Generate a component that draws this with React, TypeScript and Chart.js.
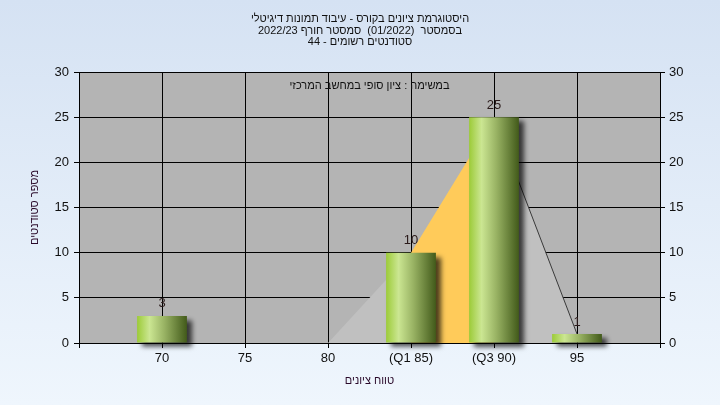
import React, { useEffect, useRef } from 'react';
import { Chart, registerables } from 'chart.js';

Chart.register(...registerables);

const FONT = "'Liberation Sans', Arial, 'DejaVu Sans', sans-serif";

const titleLines = [
  'היסטוגרמת ציונים בקורס - עיבוד תמונות דיגיטלי',
  'בסמסטר  (01/2022)  סמסטר חורף 2022/23',
  'סטודנטים רשומים - 44',
];
const taskLabel = 'במשימה : ציון סופי במחשב המרכזי';
const xTitle = 'טווח ציונים';
const yTitle = 'מספר סטודנטים';

const scores = [70, 75, 80, 85, 90, 95];
const counts = [3, 0, 0, 10, 25, 1];

const curveScores = [80, 85, 90, 95];
const curveCounts = [0, 10, 25, 1];

const tickValues = [65, 70, 75, 80, 85, 90, 95, 100];
const tickLabels = ['', '70', '75', '80', '(Q1 85)', '(Q3 90)', '95', ''];

const segmentFills = ['#c0c0c0', '#ffcb5a', '#c0c0c0'];
const segmentBorders = ['rgba(0,0,0,0)', 'rgba(0,0,0,0)', '#3a3a3a'];

const backgroundPlugin = {
  id: 'bgPlugin',
  beforeDraw(chart: any) {
    const { ctx, width, height, chartArea } = chart;
    ctx.save();
    const g = ctx.createLinearGradient(0, 0, 0, height);
    g.addColorStop(0, '#d5e2f3');
    g.addColorStop(1, '#eff6fd');
    ctx.fillStyle = g;
    ctx.fillRect(0, 0, width, height);
    ctx.fillStyle = '#b4b4b4';
    ctx.fillRect(chartArea.left, chartArea.top, chartArea.right - chartArea.left, chartArea.bottom - chartArea.top);
    ctx.fillStyle = '#111';
    ctx.font = `11px ${FONT}`;
    ctx.textAlign = 'center';
    ctx.textBaseline = 'alphabetic';
    ctx.direction = 'rtl';
    titleLines.forEach((t, i) => ctx.fillText(t, width / 2, 22 + i * 11.5));
    ctx.restore();
  },
};

const barStylePlugin = {
  id: 'barStyle',
  beforeDatasetDraw(chart: any, args: any) {
    if (args.meta.type !== 'bar') return;
    const ctx = chart.ctx;
    args.meta.data.forEach((el: any) => {
      const { x, width } = el.getProps(['x', 'width'], true);
      const g = ctx.createLinearGradient(x - width / 2, 0, x + width / 2, 0);
      g.addColorStop(0, '#9ccb38');
      g.addColorStop(0.25, '#cbe692');
      g.addColorStop(0.55, '#98b263');
      g.addColorStop(1, '#425a1a');
      el.options = { ...el.options, backgroundColor: g };
    });
    ctx.save();
    ctx.shadowColor = 'rgba(0,0,0,0.7)';
    ctx.shadowBlur = 5;
    ctx.shadowOffsetX = 5;
    ctx.shadowOffsetY = 4;
  },
  afterDatasetDraw(chart: any, args: any) {
    if (args.meta.type !== 'bar') return;
    chart.ctx.restore();
  },
  afterDatasetsDraw(chart: any) {
    const { ctx, chartArea } = chart;
    ctx.save();
    ctx.font = `13px ${FONT}`;
    ctx.fillStyle = '#2a1a1a';
    ctx.textAlign = 'center';
    ctx.textBaseline = 'middle';
    const meta = chart.getDatasetMeta(0);
    meta.data.forEach((el: any, i: number) => {
      if (counts[i] > 0) ctx.fillText(String(counts[i]), el.x, el.y - 12);
    });
    ctx.font = `11px ${FONT}`;
    ctx.fillStyle = '#111';
    ctx.direction = 'rtl';
    ctx.fillText(taskLabel, (chartArea.left + chartArea.right) / 2, chartArea.top + 14);
    ctx.restore();
  },
};

export default function App() {
  const ref = useRef<HTMLCanvasElement>(null);
  useEffect(() => {
    if (!ref.current) return;
    const tickFont = { size: 13, family: FONT };
    const chart = new Chart(ref.current, {
      type: 'bar',
      data: {
        datasets: [
          {
            type: 'bar',
            data: scores.map((s, i) => ({ x: s, y: counts[i] })),
            categoryPercentage: 0.6,
            barPercentage: 1,
            backgroundColor: '#9ccb38',
            borderWidth: 0,
            order: 1,
            clip: false,
            xAxisID: 'x',
            yAxisID: 'y',
          } as any,
          {
            type: 'line',
            data: curveScores.map((s, i) => ({ x: s, y: curveCounts[i] })),
            fill: 'origin',
            pointRadius: 0,
            borderWidth: 1,
            tension: 0,
            order: 2,
            backgroundColor: '#c0c0c0',
            borderColor: 'rgba(0,0,0,0)',
            segment: {
              backgroundColor: (c: any) => segmentFills[c.p0DataIndex],
              borderColor: (c: any) => segmentBorders[c.p0DataIndex],
            },
            xAxisID: 'x',
            yAxisID: 'y',
          } as any,
        ],
      },
      options: {
        animation: false,
        responsive: false,
        devicePixelRatio: 1,
        layout: { padding: { top: 72, left: 0, right: 0, bottom: 0 } },
        plugins: {
          legend: { display: false },
          tooltip: { enabled: false },
          title: { display: false },
        },
        scales: {
          x: {
            type: 'linear',
            min: 65,
            max: 100,
            offset: false,
            afterBuildTicks: (s: any) => {
              s.ticks = tickValues.map((v) => ({ value: v }));
            },
            afterFit: (s: any) => {
              s.height = 62;
            },
            ticks: {
              autoSkip: false,
              maxRotation: 0,
              padding: 3,
              color: '#111',
              font: tickFont,
              callback: (v: any) => {
                const i = tickValues.indexOf(Number(v));
                return i >= 0 ? tickLabels[i] : '';
              },
            },
            grid: { color: '#000', lineWidth: 1, tickLength: 5, offset: false },
            border: { color: '#000', width: 1 },
            title: {
              display: true,
              text: xTitle,
              color: '#2a0a2a',
              font: { size: 11, family: FONT },
              padding: { top: 0, bottom: 17 },
            },
          },
          y: {
            position: 'left',
            min: 0,
            max: 30,
            afterFit: (s: any) => {
              s.width = 79;
            },
            ticks: { stepSize: 5, padding: 5, color: '#111', font: tickFont },
            grid: { color: '#000', lineWidth: 1, tickLength: 5 },
            border: { color: '#000', width: 1 },
            title: {
              display: true,
              text: yTitle,
              color: '#2a0a2a',
              font: { size: 11, family: FONT },
              padding: { top: 28, bottom: 0 },
            },
          },
          y2: {
            position: 'right',
            min: 0,
            max: 30,
            afterFit: (s: any) => {
              s.width = 60;
            },
            ticks: { stepSize: 5, padding: 4, color: '#111', font: tickFont },
            grid: { drawOnChartArea: false, color: '#000', lineWidth: 1, tickLength: 5 },
            border: { color: '#000', width: 1 },
          },
        } as any,
      },
      plugins: [backgroundPlugin, barStylePlugin],
    });
    return () => chart.destroy();
  }, []);
  return (
    <div style={{ position: 'fixed', left: 0, top: 0, width: 720, height: 405 }}>
      <canvas ref={ref} width={720} height={405} style={{ display: 'block' }} />
    </div>
  );
}
